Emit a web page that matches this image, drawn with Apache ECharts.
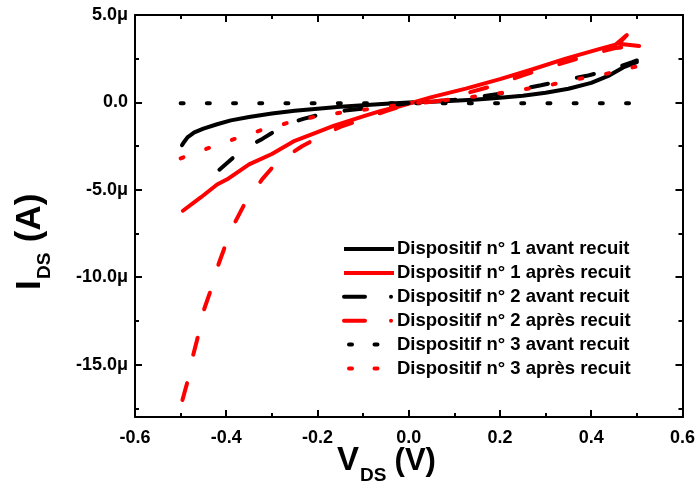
<!DOCTYPE html>
<html><head><meta charset="utf-8">
<script src="https://cdn.jsdelivr.net/npm/echarts@6/dist/echarts.min.js"></script>
<style>html,body{margin:0;padding:0;background:#fff}#c{width:698px;height:489px}</style>
</head><body><div id="c"></div>
<script>
// ---- Data (current in µA, voltage in V) ----
const seriesNames = [
  'Dispositif n° 1 avant recuit',
  'Dispositif n° 1 après recuit',
  'Dispositif n° 2 avant recuit',
  'Dispositif n° 2 après recuit',
  'Dispositif n° 3 avant recuit',
  'Dispositif n° 3 après recuit'
];
const d1AvantX = [-0.497,-0.492,-0.485,-0.47,-0.45,-0.42,-0.39,-0.35,-0.3,-0.25,-0.2,-0.15,-0.1,-0.05,0,0.05,0.1,0.15,0.2,0.25,0.3,0.35,0.4,0.44,0.47,0.5];
const d1AvantY = [-2.45,-2.25,-2.0,-1.72,-1.5,-1.25,-1.03,-0.84,-0.64,-0.48,-0.36,-0.25,-0.16,-0.08,0,0.04,0.09,0.16,0.26,0.38,0.55,0.78,1.12,1.55,2.0,2.3];

const d1ApresX = [-0.495,-0.456,-0.42,-0.398,-0.35,-0.3,-0.25,-0.2,-0.165,-0.136,-0.1,-0.063,-0.02,0.01,0.05,0.125,0.2,0.27,0.344,0.417,0.453,0.478,0.46,0.505];
const d1ApresY = [-6.2,-5.44,-4.7,-4.4,-3.55,-2.95,-2.2,-1.7,-1.35,-1.1,-0.8,-0.5,-0.22,0,0.3,0.79,1.33,1.88,2.5,3.05,3.3,3.85,3.35,3.22];

const d2AvantX = [-0.415,-0.395,-0.376,-0.35,-0.321,-0.3,-0.281,-0.255,-0.231,-0.188,-0.14,-0.1,-0.05,0,0.05,0.1,0.15,0.2,0.25,0.29,0.344,0.39,0.44,0.49,0.5];
const d2AvantY = [-3.85,-3.4,-2.95,-2.5,-2.09,-1.75,-1.42,-1.15,-0.94,-0.65,-0.47,-0.35,-0.2,-0.05,0.05,0.15,0.3,0.5,0.78,0.98,1.3,1.52,1.85,2.3,2.4];

const d2ApresX = [-0.496,-0.485,-0.474,-0.463,-0.452,-0.436,-0.421,-0.405,-0.385,-0.36,-0.34,-0.321,-0.289,-0.26,-0.234,-0.19,-0.15,-0.1,-0.05,0,0.074,0.13,0.19,0.25,0.3,0.35,0.4,0.45,0.5];
const d2ApresY = [-17.03,-15.98,-14.6,-13.5,-12.1,-10.9,-9.56,-8.4,-7.07,-5.82,-5.1,-4.39,-3.43,-2.95,-2.51,-1.9,-1.4,-0.95,-0.5,-0.1,0.11,0.55,0.98,1.55,1.95,2.35,2.75,3.1,3.22];

const d3AvantX = [-0.5,-0.25,0,0.25,0.5];
const d3AvantY = [-0.05,-0.05,-0.05,-0.05,-0.05];

const d3ApresX = [-0.5,-0.434,-0.377,-0.321,-0.265,-0.209,-0.15,-0.092,-0.034,0.02,0.074,0.137,0.192,0.249,0.307,0.362,0.42,0.478,0.5];
const d3ApresY = [-3.2,-2.57,-2.05,-1.57,-1.17,-0.84,-0.59,-0.4,-0.19,-0.02,0.11,0.31,0.5,0.73,0.98,1.3,1.55,1.94,2.05];

const yMajorTicks = [-15,-10,-5,0,5];
const yMinorTicks = [-17.5,-12.5,-7.5,-2.5,2.5];

// ---- helpers ----
const zip = (xs, ys) => xs.map((x, i) => [x, ys[i]]);
const FONT = "'Liberation Sans', Arial, sans-serif";
const BLACK = '#000000', RED = '#ff0000';
const LW = 4;

const chart = echarts.init(document.getElementById('c'), null, {renderer: 'canvas'});

function mkSeries(name, xs, ys, color, type) {
  return {
    name, type: 'line', data: zip(xs, ys), symbol: 'none', showSymbol: false,
    animation: false, xAxisIndex: 0, yAxisIndex: 0,
    lineStyle: {color, width: LW, type, cap: 'round', join: 'round'},
    itemStyle: {color},
    emphasis: {disabled: true}
  };
}
function txt(x, y, text, size, rot) {
  return {type: 'text', x, y, rotation: rot || 0, silent: true,
    style: {text, fontSize: size, fontWeight: 'bold', fontFamily: FONT, fill: BLACK, align: 'left', verticalAlign: 'middle'}};
}

const axisLineStyle = {color: BLACK, width: 2};
const yLabelFmt = v => (Math.abs(v) < 1e-9 ? '0.0' : v.toFixed(1) + 'μ');

const xAxisBase = {
  type: 'value', min: -0.6, max: 0.6, interval: 0.2,
  axisLine: {show: true, onZero: false, lineStyle: axisLineStyle},
  axisTick: {show: true, inside: true, length: 7, lineStyle: {color: BLACK, width: 2}},
  minorTick: {show: true, splitNumber: 2, length: 4, lineStyle: {color: BLACK, width: 2}},
  splitLine: {show: false}, minorSplitLine: {show: false}
};
const yAxisBase = {
  type: 'value', min: -18, max: 5,
  axisLine: {show: true, onZero: false, lineStyle: axisLineStyle},
  splitLine: {show: false}
};

const R = Math.PI / 2;
const option = {
  backgroundColor: '#ffffff',
  animation: false,
  grid: {left: 135, right: 14, top: 15, bottom: 72},
  xAxis: [
    Object.assign({}, xAxisBase, {
      position: 'bottom',
      axisLabel: {color: BLACK, fontSize: 18, fontWeight: 'bold', fontFamily: FONT, margin: 12,
        formatter: v => (Math.abs(v) < 1e-9 ? '0.0' : v.toFixed(1))}
    }),
    Object.assign({}, xAxisBase, {position: 'top', axisLabel: {show: false}})
  ],
  yAxis: [
    Object.assign({}, yAxisBase, {
      position: 'left',
      axisTick: {show: true, inside: true, length: 7, customValues: yMajorTicks, lineStyle: {color: BLACK, width: 2}},
      axisLabel: {color: BLACK, fontSize: 18, fontWeight: 'bold', fontFamily: FONT, margin: 7,
        customValues: yMajorTicks, formatter: yLabelFmt}
    }),
    Object.assign({}, yAxisBase, {
      position: 'left',
      axisTick: {show: true, inside: true, length: 4, customValues: yMinorTicks, lineStyle: {color: BLACK, width: 2}},
      axisLabel: {show: false}
    }),
    Object.assign({}, yAxisBase, {
      position: 'right',
      axisTick: {show: true, inside: true, length: 7, customValues: yMajorTicks, lineStyle: {color: BLACK, width: 2}},
      axisLabel: {show: false}
    }),
    Object.assign({}, yAxisBase, {
      position: 'right',
      axisTick: {show: true, inside: true, length: 4, customValues: yMinorTicks, lineStyle: {color: BLACK, width: 2}},
      axisLabel: {show: false}
    })
  ],
  legend: {
    orient: 'vertical', left: 342, top: 239, padding: 0,
    itemWidth: 50, itemHeight: 20, itemGap: 3.9,
    selectedMode: false,
    itemStyle: {opacity: 0},
    lineStyle: {width: LW},
    textStyle: {color: BLACK, fontSize: 18.5, fontWeight: 'bold', fontFamily: FONT, lineHeight: 20, padding: [0, 0, 0, -2]},
    data: [
      {name: seriesNames[0], lineStyle: {type: 'solid', cap: 'butt', width: LW}},
      {name: seriesNames[1], lineStyle: {type: 'solid', cap: 'butt', width: LW}},
      {name: seriesNames[2], lineStyle: {type: [21, 26, 0.01, 30], cap: 'round', width: LW}},
      {name: seriesNames[3], lineStyle: {type: [21, 26, 0.01, 30], cap: 'round', width: LW}},
      {name: seriesNames[4], lineStyle: {type: [3, 22.5], dashOffset: 20.5, cap: 'round', width: LW}},
      {name: seriesNames[5], lineStyle: {type: [3, 22.5], dashOffset: 20.5, cap: 'round', width: LW}}
    ]
  },
  graphic: [
    // y-axis title: I_DS (A) (rotated, reads bottom to top)
    txt(30, 290, 'I', 35, R),
    txt(45, 279, 'DS', 19, R),
    txt(30, 252, ' (A)', 35, R),
    // x-axis title: V_DS (V)
    txt(337, 461, 'V', 33),
    txt(360, 476, 'DS', 19),
    txt(386, 461, ' (V)', 31)
  ],
  series: [
    mkSeries(seriesNames[0], d1AvantX, d1AvantY, BLACK, 'solid'),
    mkSeries(seriesNames[1], d1ApresX, d1ApresY, RED, 'solid'),
    mkSeries(seriesNames[2], d2AvantX, d2AvantY, BLACK, [17.5, 29.5]),
    mkSeries(seriesNames[3], d2ApresX, d2ApresY, RED, [17.5, 29.2]),
    mkSeries(seriesNames[4], d3AvantX, d3AvantY, BLACK, [3, 23.2]),
    mkSeries(seriesNames[5], d3ApresX, d3ApresY, RED, [3, 24.2])
  ]
};
chart.setOption(option);
</script>
</body></html>
